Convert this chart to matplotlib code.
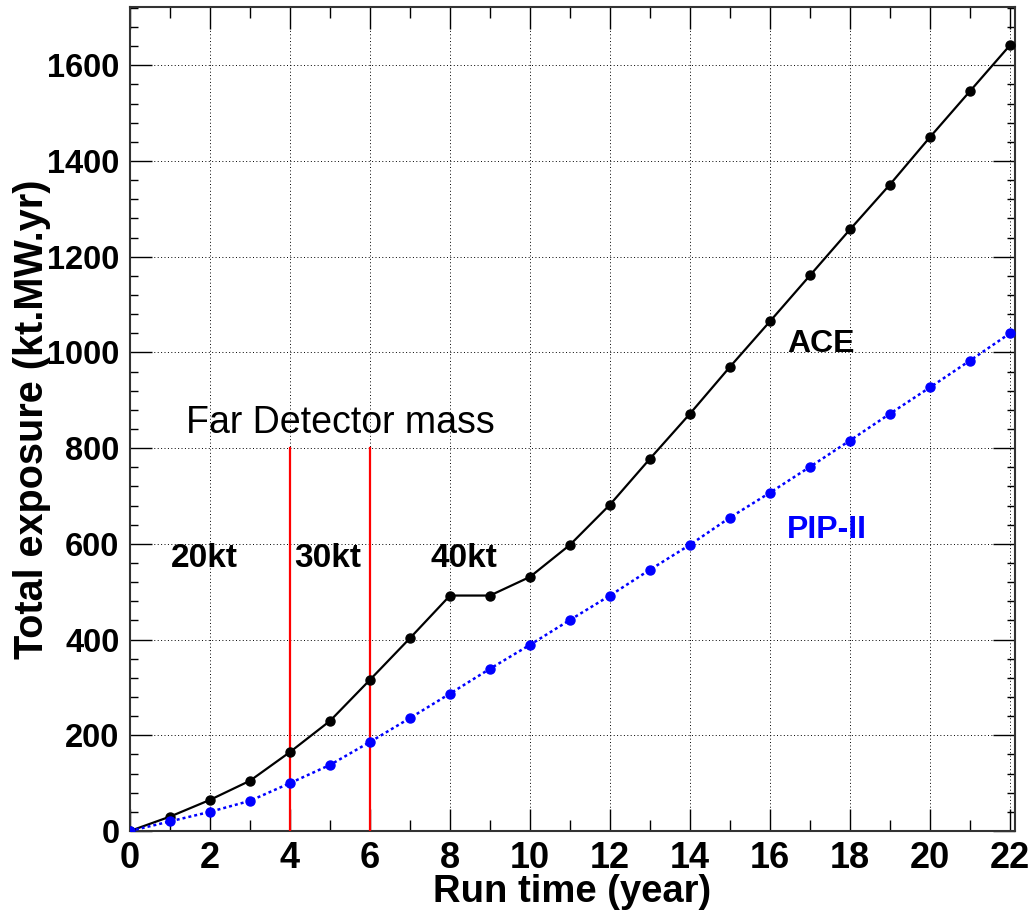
import matplotlib
matplotlib.use("Agg")
import matplotlib.pyplot as plt
from matplotlib.ticker import MultipleLocator

plt.rcParams['font.family'] = 'Liberation Sans'

years = list(range(0, 23))
ace = [0, 30, 65, 105, 165, 230, 316, 403, 492, 492, 531, 598, 682, 778, 872,
       970, 1065, 1161, 1257, 1351, 1450, 1546, 1642]
pip2 = [0, 20, 40, 63, 100, 138, 186, 236, 287, 339, 389, 441, 492, 546, 598,
        655, 707, 761, 816, 872, 927, 983, 1040]
mass_changes = [4, 6]
mass_labels = ['20kt', '30kt', '40kt']
mass_label_x = [1.86, 4.95, 8.36]

fig = plt.figure(figsize=(10.36, 9.18), dpi=100)
ax = fig.add_axes([0.1255, 0.0948, 0.854, 0.8976])

ax.plot(years, ace, color='black', lw=1.6, marker='o', ms=6.5, zorder=4)
ax.plot(years, pip2, color='blue', lw=1.8, ls=(0, (1.2, 1.2)), marker='o',
        ms=6.5, zorder=4)

for x in mass_changes:
    ax.plot([x, x], [0, 800], color='red', lw=1.6, zorder=3)

ax.text(5.25, 832, 'Far Detector mass', fontsize=27, ha='center', va='baseline')
for lab, x in zip(mass_labels, mass_label_x):
    ax.text(x, 552, lab, fontsize=24, fontweight='bold', ha='center', va='baseline')
ax.text(17.27, 1002, 'ACE', fontsize=23, fontweight='bold', ha='center', va='baseline')
ax.text(17.43, 613, 'PIP-II', fontsize=23, fontweight='bold', color='blue',
        ha='center', va='baseline')

ax.set_xlim(0, 22.12)
ax.set_ylim(0, 1722)
ax.xaxis.set_major_locator(MultipleLocator(2))
ax.xaxis.set_minor_locator(MultipleLocator(1))
ax.yaxis.set_major_locator(MultipleLocator(200))
ax.yaxis.set_minor_locator(MultipleLocator(40))

ax.grid(True, which='major', color='black', lw=0.7, ls=(0, (1, 2.5)))
ax.tick_params(which='both', direction='in', top=True, right=True, width=1.0)
ax.tick_params(axis='x', which='major', length=16, pad=7, labelsize=26)
ax.tick_params(axis='x', which='minor', length=8)
ax.tick_params(axis='y', which='major', length=16, pad=7.5, labelsize=23.5)
ax.tick_params(axis='y', which='minor', length=6)
for t in ax.get_xticklabels() + ax.get_yticklabels():
    t.set_fontweight('bold')
for s in ax.spines.values():
    s.set_linewidth(1.5)
    s.set_color('#333333')

ax.set_xlabel('Run time (year)', fontsize=27.5, fontweight='bold', labelpad=-1)
ax.set_ylabel('Total exposure (kt.MW.yr)', fontsize=28.5, fontweight='bold', labelpad=-3)

fig.savefig('out.png', dpi=100)
